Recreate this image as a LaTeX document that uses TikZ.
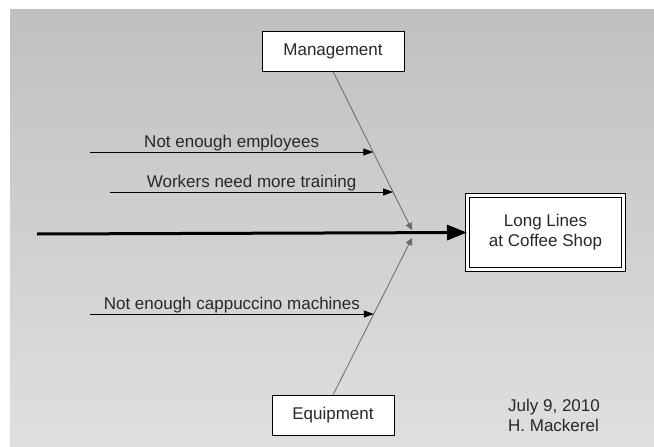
\documentclass[tikz,border=0pt]{standalone}
\usepackage{fontspec}
\setmainfont{Liberation Sans}
\usepackage{xcolor}
\usetikzlibrary{arrows.meta, positioning, calc}
\definecolor{bgtop}{RGB}{192,192,192}
\definecolor{bgbottom}{RGB}{223,223,223}
\definecolor{bonecolor}{RGB}{105,105,105}
\definecolor{labelcolor}{RGB}{40,40,40}
\tikzstyle{arrow} = [line width=0.9pt,-{Triangle[length=10pt,width=7pt]}]
\tikzstyle{spine} = [line width=3pt,-{Triangle[length=20pt,width=15pt]}]
\tikzstyle{bone} = [draw=bonecolor, line width=0.8pt, -{Triangle[length=7pt,width=7pt]}]
\tikzstyle{category} = [rectangle, draw, fill=white, line width=1pt, minimum height=40pt]
\tikzstyle{effect} = [rectangle, draw, double, double distance=3pt, line width=1pt, fill=white, align=center, minimum width=156pt, minimum height=74pt]

\begin{document}
\begin{tikzpicture}[x=1pt, y=-1pt, font=\fontsize{17}{20}\selectfont, text=labelcolor]

% Background
\useasboundingbox (0,0) rectangle (654,447);
\fill[white] (0,0) rectangle (654,447);
\shade[top color=bgtop, bottom color=bgbottom] (10,9) rectangle (654,447);

% Category and effect boxes
\node[category, minimum width=142pt] (mgmt) at (333,51) {Management};
\node[category, minimum width=122pt] (equip) at (333,415.5) {Equipment};
\node[effect] (problem) at (545.5,232.5) {Long Lines\\at Coffee Shop};

% Spine
\coordinate (tail) at (37,234);
\draw[spine] (tail) -- (problem.west);

% Bones
\coordinate (headM) at (412,230);
\coordinate (headE) at (412,238);
\draw[bone] (mgmt.south) -- (headM);
\draw[bone] (equip.north) -- (headE);

% Causes
\coordinate (c1) at ($(mgmt.south)!0.51!(headM)$);
\coordinate (c2) at ($(mgmt.south)!0.761!(headM)$);
\coordinate (c3) at ($(equip.north)!0.516!(headE)$);
\coordinate (e1) at (90,152);
\coordinate (e2) at (110,192);
\coordinate (e3) at (90,314);
\draw[arrow] (e1) -- (e1 -| c1) node[midway, above, inner sep=0.5pt] {Not enough employees};
\draw[arrow] (e2) -- (e2 -| c2) node[midway, above, inner sep=0.5pt] {Workers need more training};
\draw[arrow] (e3) -- (e3 -| c3) node[midway, above, inner sep=0.5pt] {Not enough cappuccino machines};

% Date and author
\node[align=left] (stamp) at (554,415) {July 9, 2010\\H. Mackerel};

\end{tikzpicture}
\end{document}
